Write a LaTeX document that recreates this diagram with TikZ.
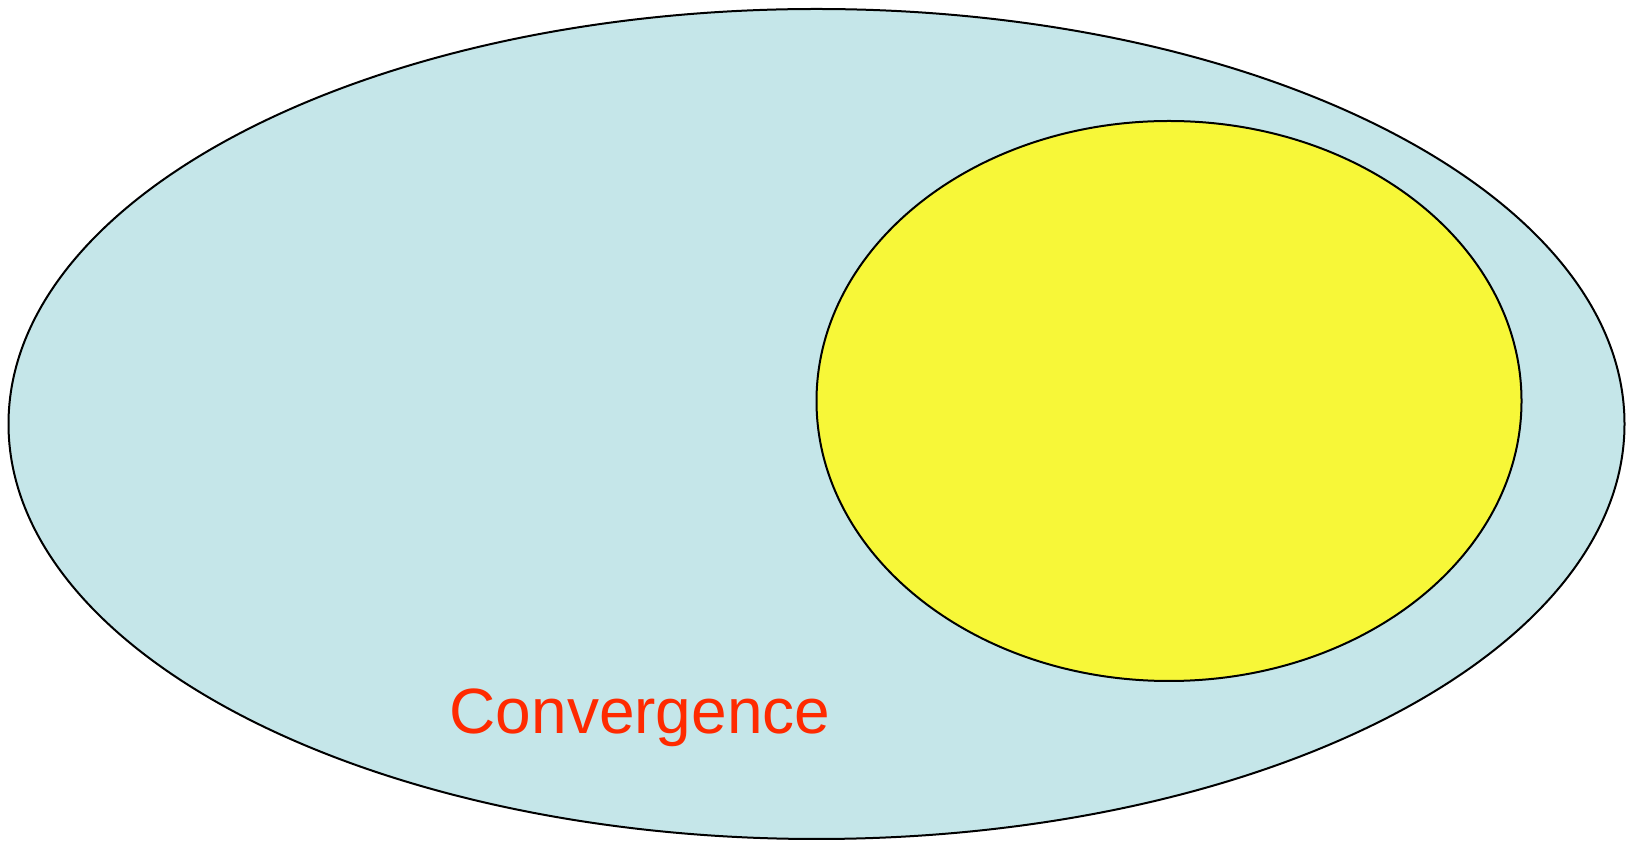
\documentclass[tikz,border=0pt]{standalone}
\usepackage{fontspec}
\setmainfont{Liberation Sans}
\usetikzlibrary{shapes.geometric}
\definecolor{setblue}{HTML}{C5E6E9}
\definecolor{setyellow}{HTML}{F7F738}
\definecolor{labelred}{HTML}{FF2A00}
\tikzset{
  setshape/.style={ellipse,draw=black,line width=2pt,inner sep=0pt}
}
\begin{document}
\begin{tikzpicture}[x=1pt,y=1pt]
\useasboundingbox (0,0) rectangle (1633,843);
\node[setshape,fill=setblue,minimum width=1616pt,minimum height=830pt] (outer) at (816.5,419) {};
\node[setshape,fill=setyellow,minimum width=705pt,minimum height=560pt] (inner) at (1169,442) {};
\node[anchor=base,inner sep=0pt,text=labelred,font=\fontsize{64}{64}\selectfont] (conv) at (640,109) {Convergence};
\end{tikzpicture}
\end{document}
